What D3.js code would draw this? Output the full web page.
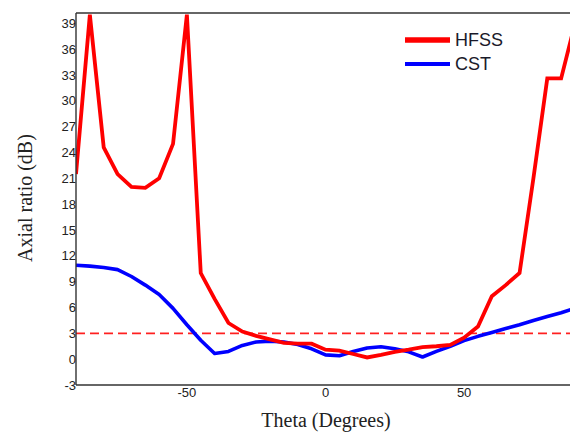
<!DOCTYPE html>
<html><head><meta charset="utf-8">
<script src="https://cdn.jsdelivr.net/npm/d3@7"></script>
<style>html,body{margin:0;padding:0;background:#fff;overflow:hidden}</style>
</head><body>
<script>
const theta = [-90,-85,-80,-75,-70,-65,-60,-55,-50,-45,-40,-35,-30,-25,-20,-15,-10,-5,0,5,10,15,20,25,30,35,40,45,50,55,60,65,70,75,80,85,90];
const hfss = [21.5,40,24.6,21.5,20,19.9,21,25,40,10,7,4.2,3.2,2.7,2.3,1.9,1.8,1.8,1.1,1.0,0.6,0.2,0.5,0.85,1.1,1.4,1.5,1.65,2.5,3.8,7.3,8.6,10,21,32.6,32.6,39];
const cst = [10.9,10.8,10.65,10.4,9.6,8.6,7.5,5.9,4.0,2.2,0.65,0.9,1.6,2.0,2.1,2.0,1.7,1.2,0.5,0.4,0.9,1.3,1.45,1.2,0.85,0.25,0.9,1.5,2.15,2.65,3.1,3.55,4.0,4.5,4.95,5.4,5.9];
const yTicks = [-3,0,3,6,9,12,15,18,21,24,27,30,33,36,39];
const xTicks = [-50,0,50];
const refLevel = 3;
const seriesNames = ["HFSS","CST"];

const W=570,H=432, L=76, T=13, R=575, B=385;
const svg = d3.select("body").append("svg").attr("width",W).attr("height",H).style("display","block");
const x = d3.scaleLinear().domain([-90,90]).range([L,R]);
const y = d3.scaleLinear().domain([-3,40.2]).range([B,T]);

svg.append("defs").append("clipPath").attr("id","clip")
  .append("rect").attr("x",L).attr("y",T).attr("width",R-L).attr("height",B-T);

const g = svg.append("g").attr("clip-path","url(#clip)");
// reference dashed line
g.append("line").attr("x1",x(-90)).attr("x2",x(90)).attr("y1",y(refLevel)).attr("y2",y(refLevel))
  .attr("stroke","#ff2020").attr("stroke-width",1.6).attr("stroke-dasharray","9,5");

const line = d3.line().x((d,i)=>x(theta[i])).y(d=>y(d));
g.append("path").datum(cst).attr("d",line).attr("fill","none").attr("stroke","#0000ff").attr("stroke-width",3.6).attr("stroke-linejoin","round");
g.append("path").datum(hfss).attr("d",line).attr("fill","none").attr("stroke","#ff0000").attr("stroke-width",3.8).attr("stroke-linejoin","miter");

// frame
const ax = svg.append("g");
ax.append("line").attr("x1",L).attr("x2",R).attr("y1",T).attr("y2",T).attr("stroke","#333").attr("stroke-width",1.4);
ax.append("line").attr("x1",L).attr("x2",L).attr("y1",T).attr("y2",B).attr("stroke","#333").attr("stroke-width",1.4);
ax.append("line").attr("x1",L).attr("x2",R).attr("y1",B).attr("y2",B).attr("stroke","#333").attr("stroke-width",1.4);

// tick labels
ax.selectAll("text.yt").data(yTicks).enter().append("text").attr("class","yt")
  .attr("x",L).attr("y",d=>y(d)).attr("dy","0.35em").attr("text-anchor","end")
  .attr("font-family","Liberation Sans, Arial, sans-serif").attr("font-size",13).attr("fill","#222")
  .text(d=>d);
ax.selectAll("text.xt").data(xTicks).enter().append("text").attr("class","xt")
  .attr("x",d=>x(d)).attr("y",B+12).attr("text-anchor","middle")
  .attr("font-family","Liberation Sans, Arial, sans-serif").attr("font-size",13).attr("fill","#222")
  .text(d=>d);

// axis titles
svg.append("text").attr("x",326).attr("y",427).attr("text-anchor","middle")
  .attr("font-family","Liberation Serif, Times New Roman, serif").attr("font-size",20).attr("fill","#222")
  .text("Theta (Degrees)");
svg.append("text").attr("transform","translate(32,198) rotate(-90)").attr("text-anchor","middle")
  .attr("font-family","Liberation Serif, Times New Roman, serif").attr("font-size",20).attr("fill","#222")
  .text("Axial ratio (dB)");

// legend
const colors = ["#ff0000","#0000ff"];
const lg = svg.append("g");
seriesNames.forEach((n,i)=>{
  const yy = 40 + i*24;
  lg.append("line").attr("x1",405).attr("x2",450).attr("y1",yy).attr("y2",yy).attr("stroke",colors[i]).attr("stroke-width",i===0?5.5:4);
  lg.append("text").attr("x",455).attr("y",yy).attr("dy","0.35em")
    .attr("font-family","Liberation Sans, Arial, sans-serif").attr("font-size",18).attr("fill","#1a1a2a").text(n);
});
</script>
</body></html>
